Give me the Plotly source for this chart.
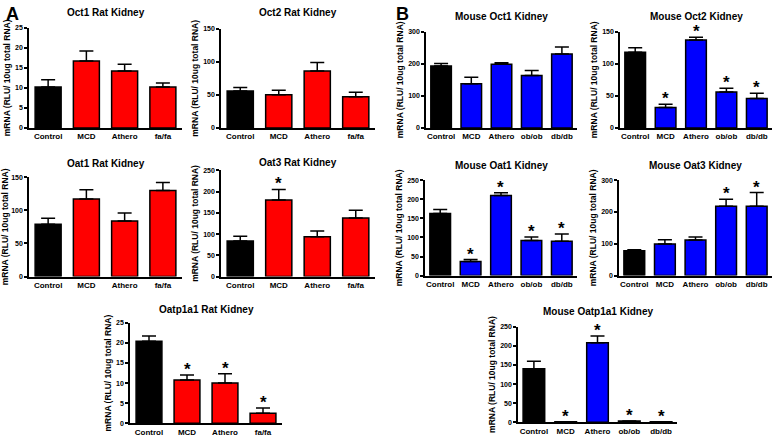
import plotly.graph_objects as go

# groups
rat_groups = ["Control", "MCD", "Athero", "fa/fa"]
mouse_groups = ["Control", "MCD", "Athero", "ob/ob", "db/db"]

# rat kidney (panel A)
oct1_rat = [10.2, 16.7, 14.2, 10.2]
oct1_rat_err = [1.8, 2.5, 1.7, 1.0]
oct1_rat_sig = [0, 0, 0, 0]

oct2_rat = [56, 50, 86, 47]
oct2_rat_err = [5, 7, 13, 7]
oct2_rat_sig = [0, 0, 0, 0]

oat1_rat = [79, 117, 84, 130]
oat1_rat_err = [9, 14, 12, 12]
oat1_rat_sig = [0, 0, 0, 0]

oat3_rat = [84, 180, 94, 138]
oat3_rat_err = [11, 25, 13, 18]
oat3_rat_sig = [0, 1, 0, 0]

oatp1a1_rat = [20.4, 10.8, 10.0, 2.5]
oatp1a1_rat_err = [1.3, 1.2, 2.3, 1.3]
oatp1a1_rat_sig = [0, 1, 1, 1]

# mouse kidney (panel B)
oct1_mouse = [193, 138, 198, 163, 230]
oct1_mouse_err = [8, 20, 5, 16, 22]
oct1_mouse_sig = [0, 0, 0, 0, 0]

oct2_mouse = [118, 32, 137, 56, 46]
oct2_mouse_err = [7, 5, 4, 6, 8]
oct2_mouse_sig = [0, 1, 1, 1, 1]

oat1_mouse = [163, 37, 210, 92, 90]
oat1_mouse_err = [10, 5, 7, 9, 19]
oat1_mouse_sig = [0, 1, 1, 1, 1]

oat3_mouse = [78, 99, 112, 218, 218]
oat3_mouse_err = [3, 14, 9, 22, 43]
oat3_mouse_sig = [0, 0, 0, 1, 1]

oatp1a1_mouse = [140, 1, 208, 3, 1]
oatp1a1_mouse_err = [20, 0.5, 18, 0.5, 0.5]
oatp1a1_mouse_sig = [0, 1, 1, 1, 1]

W, H = 775, 441
FONT = "Liberation Sans, Arial, sans-serif"
RED = "#ff0000"
BLUE = "#0000ff"


def fx(p):
    return p / W


def fy(p):
    return 1 - p / H


# title, groups, values, errors, sig, colour, ymax, dtick, box (left, right, top, bottom), title y
panels = [
    ("Oct1 Rat Kidney", rat_groups, oct1_rat, oct1_rat_err, oct1_rat_sig, RED, 25, 5, (29, 182, 24, 126), 9),
    ("Oct2 Rat Kidney", rat_groups, oct2_rat, oct2_rat_err, oct2_rat_sig, RED, 150, 50, (221, 375, 25, 126), 9),
    ("Oat1 Rat Kidney", rat_groups, oat1_rat, oat1_rat_err, oat1_rat_sig, RED, 150, 50, (29, 182, 176, 277), 162),
    ("Oat3 Rat Kidney", rat_groups, oat3_rat, oat3_rat_err, oat3_rat_sig, RED, 250, 50, (221, 375, 169, 277), 161),
    ("Oatp1a1 Rat Kidney", rat_groups, oatp1a1_rat, oatp1a1_rat_err, oatp1a1_rat_sig, RED, 25, 5, (130, 282, 324, 426), 310),
    ("Mouse Oct1 Kidney", mouse_groups, oct1_mouse, oct1_mouse_err, oct1_mouse_sig, BLUE, 300, 100, (426, 577, 28, 126), 13),
    ("Mouse Oct2 Kidney", mouse_groups, oct2_mouse, oct2_mouse_err, oct2_mouse_sig, BLUE, 150, 50, (620, 772, 28, 126), 13),
    ("Mouse Oat1 Kidney", mouse_groups, oat1_mouse, oat1_mouse_err, oat1_mouse_sig, BLUE, 250, 50, (425, 577, 179, 276), 164),
    ("Mouse Oat3 Kidney", mouse_groups, oat3_mouse, oat3_mouse_err, oat3_mouse_sig, BLUE, 300, 100, (619, 772, 179, 276), 164),
    ("Mouse Oatp1a1 Kidney", mouse_groups, oatp1a1_mouse, oatp1a1_mouse_err, oatp1a1_mouse_sig, BLUE, 250, 50, (518, 677, 328, 425), 312),
]

fig = go.Figure()
annotations = []
layout_axes = {}

for i, (title, groups, vals, errs, sig, col, ymax, dtick, box, ty) in enumerate(panels, start=1):
    sfx = "" if i == 1 else str(i)
    colors = ["#000000"] + [col] * (len(groups) - 1)
    fig.add_trace(go.Bar(
        x=groups, y=vals,
        marker=dict(color=colors, line=dict(color="#000000", width=1.5)),
        error_y=dict(type="data", symmetric=False, array=errs, arrayminus=[0] * len(errs),
                     color="#000000", thickness=1.5, width=7),
        width=0.68,
        xaxis="x" + sfx, yaxis="y" + sfx,
        showlegend=False,
    ))
    l, r, t, b = box
    layout_axes["xaxis" + sfx] = dict(
        domain=[fx(l), fx(r)], anchor="y" + sfx,
        showline=True, linecolor="#000000", linewidth=1.5,
        ticks="", showgrid=False, zeroline=False,
        tickfont=dict(family=FONT, size=8, color="#000000", weight="bold"),
    )
    layout_axes["yaxis" + sfx] = dict(
        domain=[fy(b), fy(t)], anchor="x" + sfx,
        range=[0, ymax], dtick=dtick, tick0=0,
        showline=True, linecolor="#000000", linewidth=1.5,
        ticks="outside", ticklen=3, tickwidth=1.5, tickcolor="#000000",
        showgrid=False, zeroline=False,
        tickfont=dict(family=FONT, size=7, color="#000000", weight="bold"),
        title=dict(text="mRNA (RLU/ 10ug total RNA)", standoff=3,
                   font=dict(family=FONT, size=8.5, color="#000000", weight="bold")),
    )
    annotations.append(dict(
        text="<b>" + title + "</b>", xref="paper", yref="paper",
        x=fx((l + r) / 2), y=fy(ty), xanchor="center", yanchor="middle",
        showarrow=False, font=dict(family=FONT, size=10, color="#000000"),
    ))
    for g, v, e, s in zip(groups, vals, errs, sig):
        if s:
            annotations.append(dict(
                text="<b>*</b>", xref="x" + sfx, yref="y" + sfx,
                x=g, y=v + e, yanchor="bottom", yshift=-6,
                showarrow=False, font=dict(family=FONT, size=17, color="#000000"),
            ))

annotations.append(dict(text="<b>A</b>", xref="paper", yref="paper", x=fx(4), y=fy(10),
                        xanchor="left", yanchor="middle", showarrow=False,
                        font=dict(family=FONT, size=18, color="#000000")))
annotations.append(dict(text="<b>B</b>", xref="paper", yref="paper", x=fx(394), y=fy(10),
                        xanchor="left", yanchor="middle", showarrow=False,
                        font=dict(family=FONT, size=18, color="#000000")))

fig.update_layout(
    width=W, height=H,
    margin=dict(l=0, r=0, t=0, b=0),
    paper_bgcolor="#ffffff", plot_bgcolor="#ffffff",
    annotations=annotations,
    bargap=0.3,
    **layout_axes,
)

# the page body has a default 8px margin; drop it so the figure sits at the window corner
fig.write_html("out.html", config={"displayModeBar": False},
               post_script="document.body.style.margin='0';")
